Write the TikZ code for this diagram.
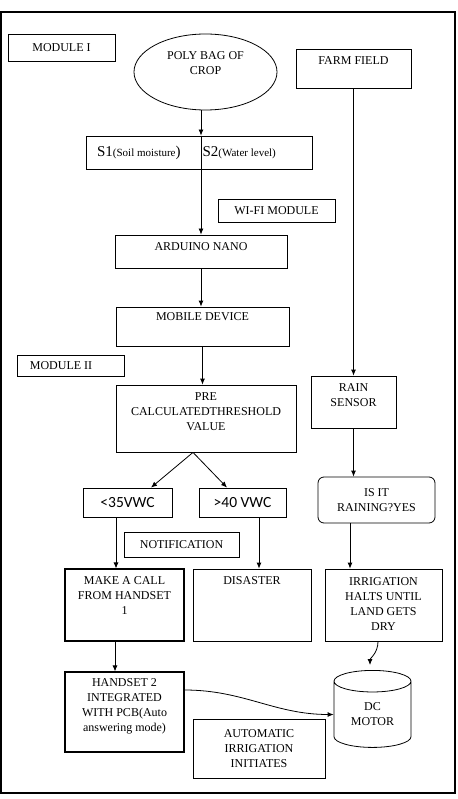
\documentclass[tikz,border=0pt]{standalone}
\usepackage{fontspec}
\setmainfont{Liberation Serif}
\newfontfamily\calibfont{Carlito}
\usetikzlibrary{arrows.meta,shapes.geometric}

\begin{document}
\begin{tikzpicture}[x=1pt,y=-1pt,
  font=\fontsize{12}{15}\selectfont,
  >={Latex[length=6pt,width=5pt]},
  box/.style={draw,line width=0.8pt,inner sep=0pt,align=center},
  txt/.style={anchor=north,yshift=-5pt,align=center,inner sep=3pt},
  vwc/.style={font=\calibfont\fontsize{15.5}{16}\selectfont},
  link/.style={->,line width=0.8pt}]
\useasboundingbox (0,0) rectangle (457,799);
\draw[line width=1.5pt] (1,12) rectangle (455,793);
\node (n1) at (61.5,47.5) [box,minimum width=107,minimum height=27] {MODULE I};
\node (n2) at (205.5,72) [box,ellipse,minimum width=143,minimum height=76,
  label={[txt,yshift=-10pt]north:POLY BAG OF\\CROP}] {};
\node (n3) at (353.5,68.5) [box,minimum width=115,minimum height=39,
  label={[txt]north:FARM FIELD}] {};
\node (n4) at (199,152.5) [box,minimum width=226,minimum height=33]
  {{\fontsize{15}{15}\selectfont S1}{\fontsize{11}{11}\selectfont(Soil moisture}{\fontsize{15}{15}\selectfont)}\hspace{22pt}{\fontsize{15}{15}\selectfont S2}{\fontsize{11}{11}\selectfont(Water level)}\hspace{25pt}};
\node (n5) at (276.5,210.5) [box,minimum width=117,minimum height=23] {WI-FI MODULE};
\node (n6) at (201,251.5) [box,minimum width=172,minimum height=33,
  label={[txt]north:ARDUINO NANO}] {};
\node (n7) at (202.5,326.5) [box,minimum width=173,minimum height=39,
  label={[txt,yshift=2pt]north:MOBILE DEVICE}] {};
\node (n8) at (70.5,365.5) [box,minimum width=107,minimum height=21] {MODULE II\hspace{19pt}};
\node (n9) at (206,418.5) [box,minimum width=180,minimum height=67,
  label={[txt]north:PRE\\CALCULATEDTHRESHOLD\\VALUE}] {};
\node (n10) at (353.5,402) [box,minimum width=85,minimum height=52,
  label={[txt]north:RAIN\\SENSOR}] {};
\node (n11) at (127.5,502.5) [box,vwc,minimum width=89,minimum height=29] {<35VWC};
\node (n12) at (242.5,502.5) [box,vwc,minimum width=87,minimum height=29] {>40 VWC};
\node (n13) at (376.5,500) [box,rounded corners=6pt,minimum width=117,minimum height=46] {IS IT\\RAINING?YES};
\node (n14) at (181.5,544.5) [box,minimum width=115,minimum height=25] {NOTIFICATION};
\node (n15) at (124.5,605) [box,line width=1.1pt,minimum width=119,minimum height=72,
  label={[txt]north:MAKE A CALL\\FROM HANDSET\\1}] {};
\node (n16) at (252,605) [box,minimum width=118,minimum height=72,
  label={[txt]north:DISASTER}] {};
\node (n17) at (383.5,605) [box,minimum width=117,minimum height=72,
  label={[txt,yshift=-1pt]north:IRRIGATION\\HALTS UNTIL\\LAND GETS\\DRY}] {};
\node (n18) at (124.5,712) [box,line width=1.1pt,minimum width=119,minimum height=80,
  label={[txt,yshift=1pt]north:HANDSET 2\\INTEGRATED\\WITH PCB(Auto\\answering mode)}] {};
\node (n19) at (372.5,714.5) [box,cylinder,shape border rotate=90,aspect=0.5,
  minimum width=77,minimum height=77] {DC\\MOTOR};
\node (n20) at (259,748.5) [box,minimum width=132,minimum height=59] {AUTOMATIC\\IRRIGATION\\INITIATES};
\draw[link] (n6 |- n2.south) -- (n6 |- n4.north);
\draw[link] (n6 |- n4.north) -- (n6.north);
\draw[link] (n3.south) -- (n10.north);
\draw[link] (n6.south) -- (n6.south |- n7.north);
\draw[link] (n7.south) -- (n7.south |- n9.north);
\draw[link] ([xshift=-13pt]n9.south) -- ([xshift=23.5pt]n11.north);
\draw[link] ([xshift=-13pt]n9.south) -- ([xshift=-15.5pt]n12.north);
\draw[link] (n10.south) -- (n10.south |- n13.north);
\draw[link] ([xshift=-11.5pt]n11.south) -- ([xshift=-11.5pt]n11.south |- n15.north);
\draw[link] ([xshift=16.5pt]n12.south) -- ([xshift=16.5pt]n12.south |- n16.north);
\draw[link] ([xshift=-26.5pt]n13.south) -- ([xshift=-26.5pt]n13.south |- n17.north);
\draw[link] ([xshift=-9.5pt]n15.south) -- ([xshift=-9.5pt]n15.south |- n18.north);
\draw[link,shorten >=5pt] ([xshift=-5.5pt]n17.south) to[out=-90,in=90] ([xshift=-2.5pt]n19.north);
\draw[link] ([yshift=22pt]n18.east) to[out=0,in=180] (n19.west);
\end{tikzpicture}
\end{document}
